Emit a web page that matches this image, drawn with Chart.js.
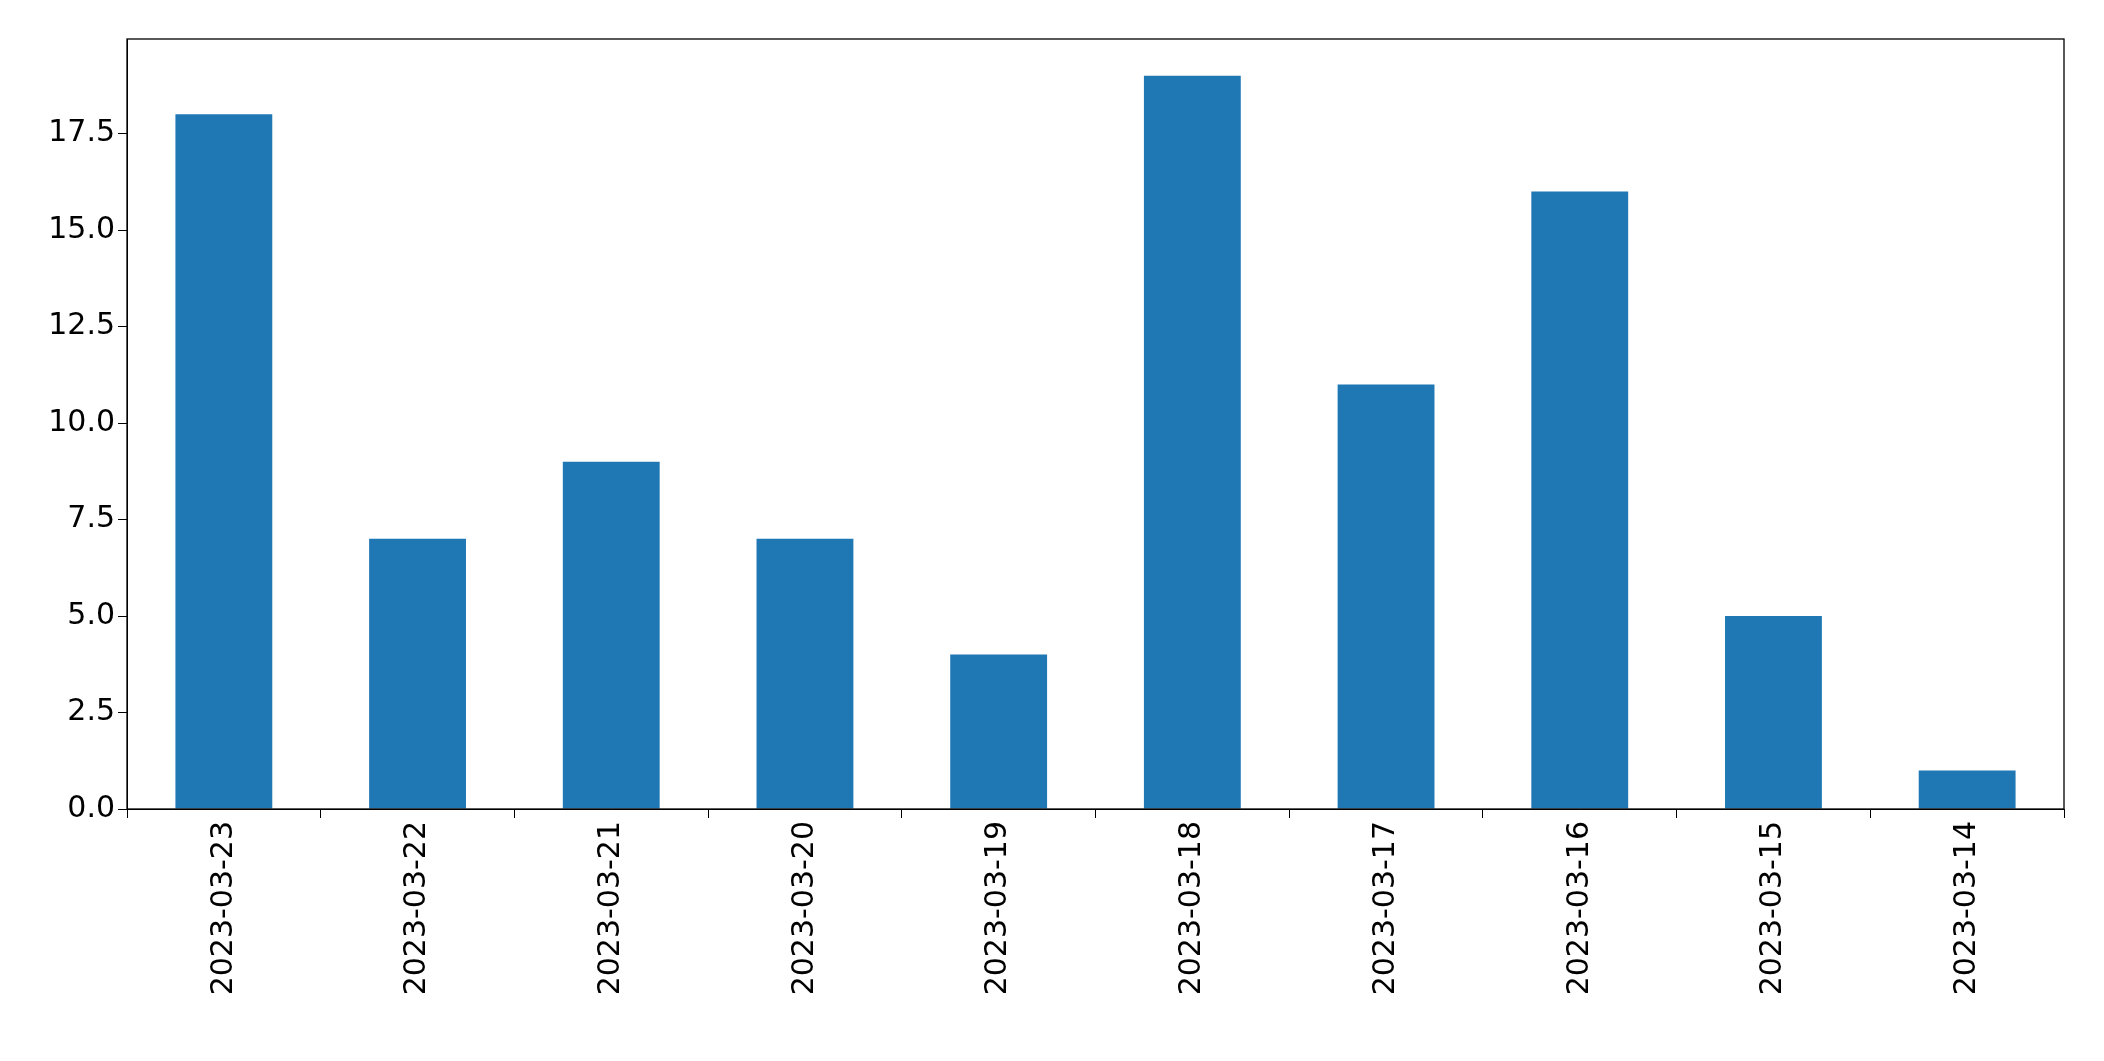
<!DOCTYPE html>
<html>
<head>
<script src="https://cdn.jsdelivr.net/npm/chart.js@4"></script>
<style>body{margin:0;background:#fff}</style>
</head>
<body>
<canvas id="chart" width="2104" height="1061"></canvas>
<script>
const dates = ["2023-03-23", "2023-03-22", "2023-03-21", "2023-03-20", "2023-03-19", "2023-03-18", "2023-03-17", "2023-03-16", "2023-03-15", "2023-03-14"];
const counts = [18, 7, 9, 7, 4, 19, 11, 16, 5, 1];
const yTicks = [0, 2.5, 5, 7.5, 10, 12.5, 15, 17.5];

const frame = {
    id: 'frame',
    afterDraw(chart) {
        const a = chart.chartArea, ctx = chart.ctx;
        ctx.save();
        ctx.strokeStyle = '#000';
        ctx.lineWidth = 1.3;
        ctx.strokeRect(a.left, a.top, a.right - a.left, a.bottom - a.top);
        ctx.restore();
    }
};

new Chart(document.getElementById('chart').getContext('2d'), {
    type: 'bar',
    data: {
        labels: dates,
        datasets: [{ data: counts, backgroundColor: '#1f77b4', categoryPercentage: 1, barPercentage: 0.5 }]
    },
    options: {
        responsive: false,
        animation: false,
        layout: { padding: { top: 39, right: 40 } },
        plugins: { legend: { display: false }, tooltip: { enabled: false } },
        scales: {
            x: {
                grid: { drawOnChartArea: false, tickLength: 9, color: '#000' },
                border: { color: '#000' },
                ticks: { color: '#000', maxRotation: 90, minRotation: 90, font: { family: 'DejaVu Sans', size: 30 } },
                afterFit(s) { s.height = 252; }
            },
            y: {
                min: 0, max: 19.95,
                grid: { drawOnChartArea: false, tickLength: 9, color: '#000' },
                border: { color: '#000' },
                afterBuildTicks(s) { s.ticks = yTicks.map(v => ({ value: v })); },
                ticks: { color: '#000', font: { family: 'DejaVu Sans', size: 30 }, callback: v => v.toFixed(1) },
                afterFit(s) { s.width = 127; }
            }
        }
    },
    plugins: [frame]
});
</script>
</body>
</html>
